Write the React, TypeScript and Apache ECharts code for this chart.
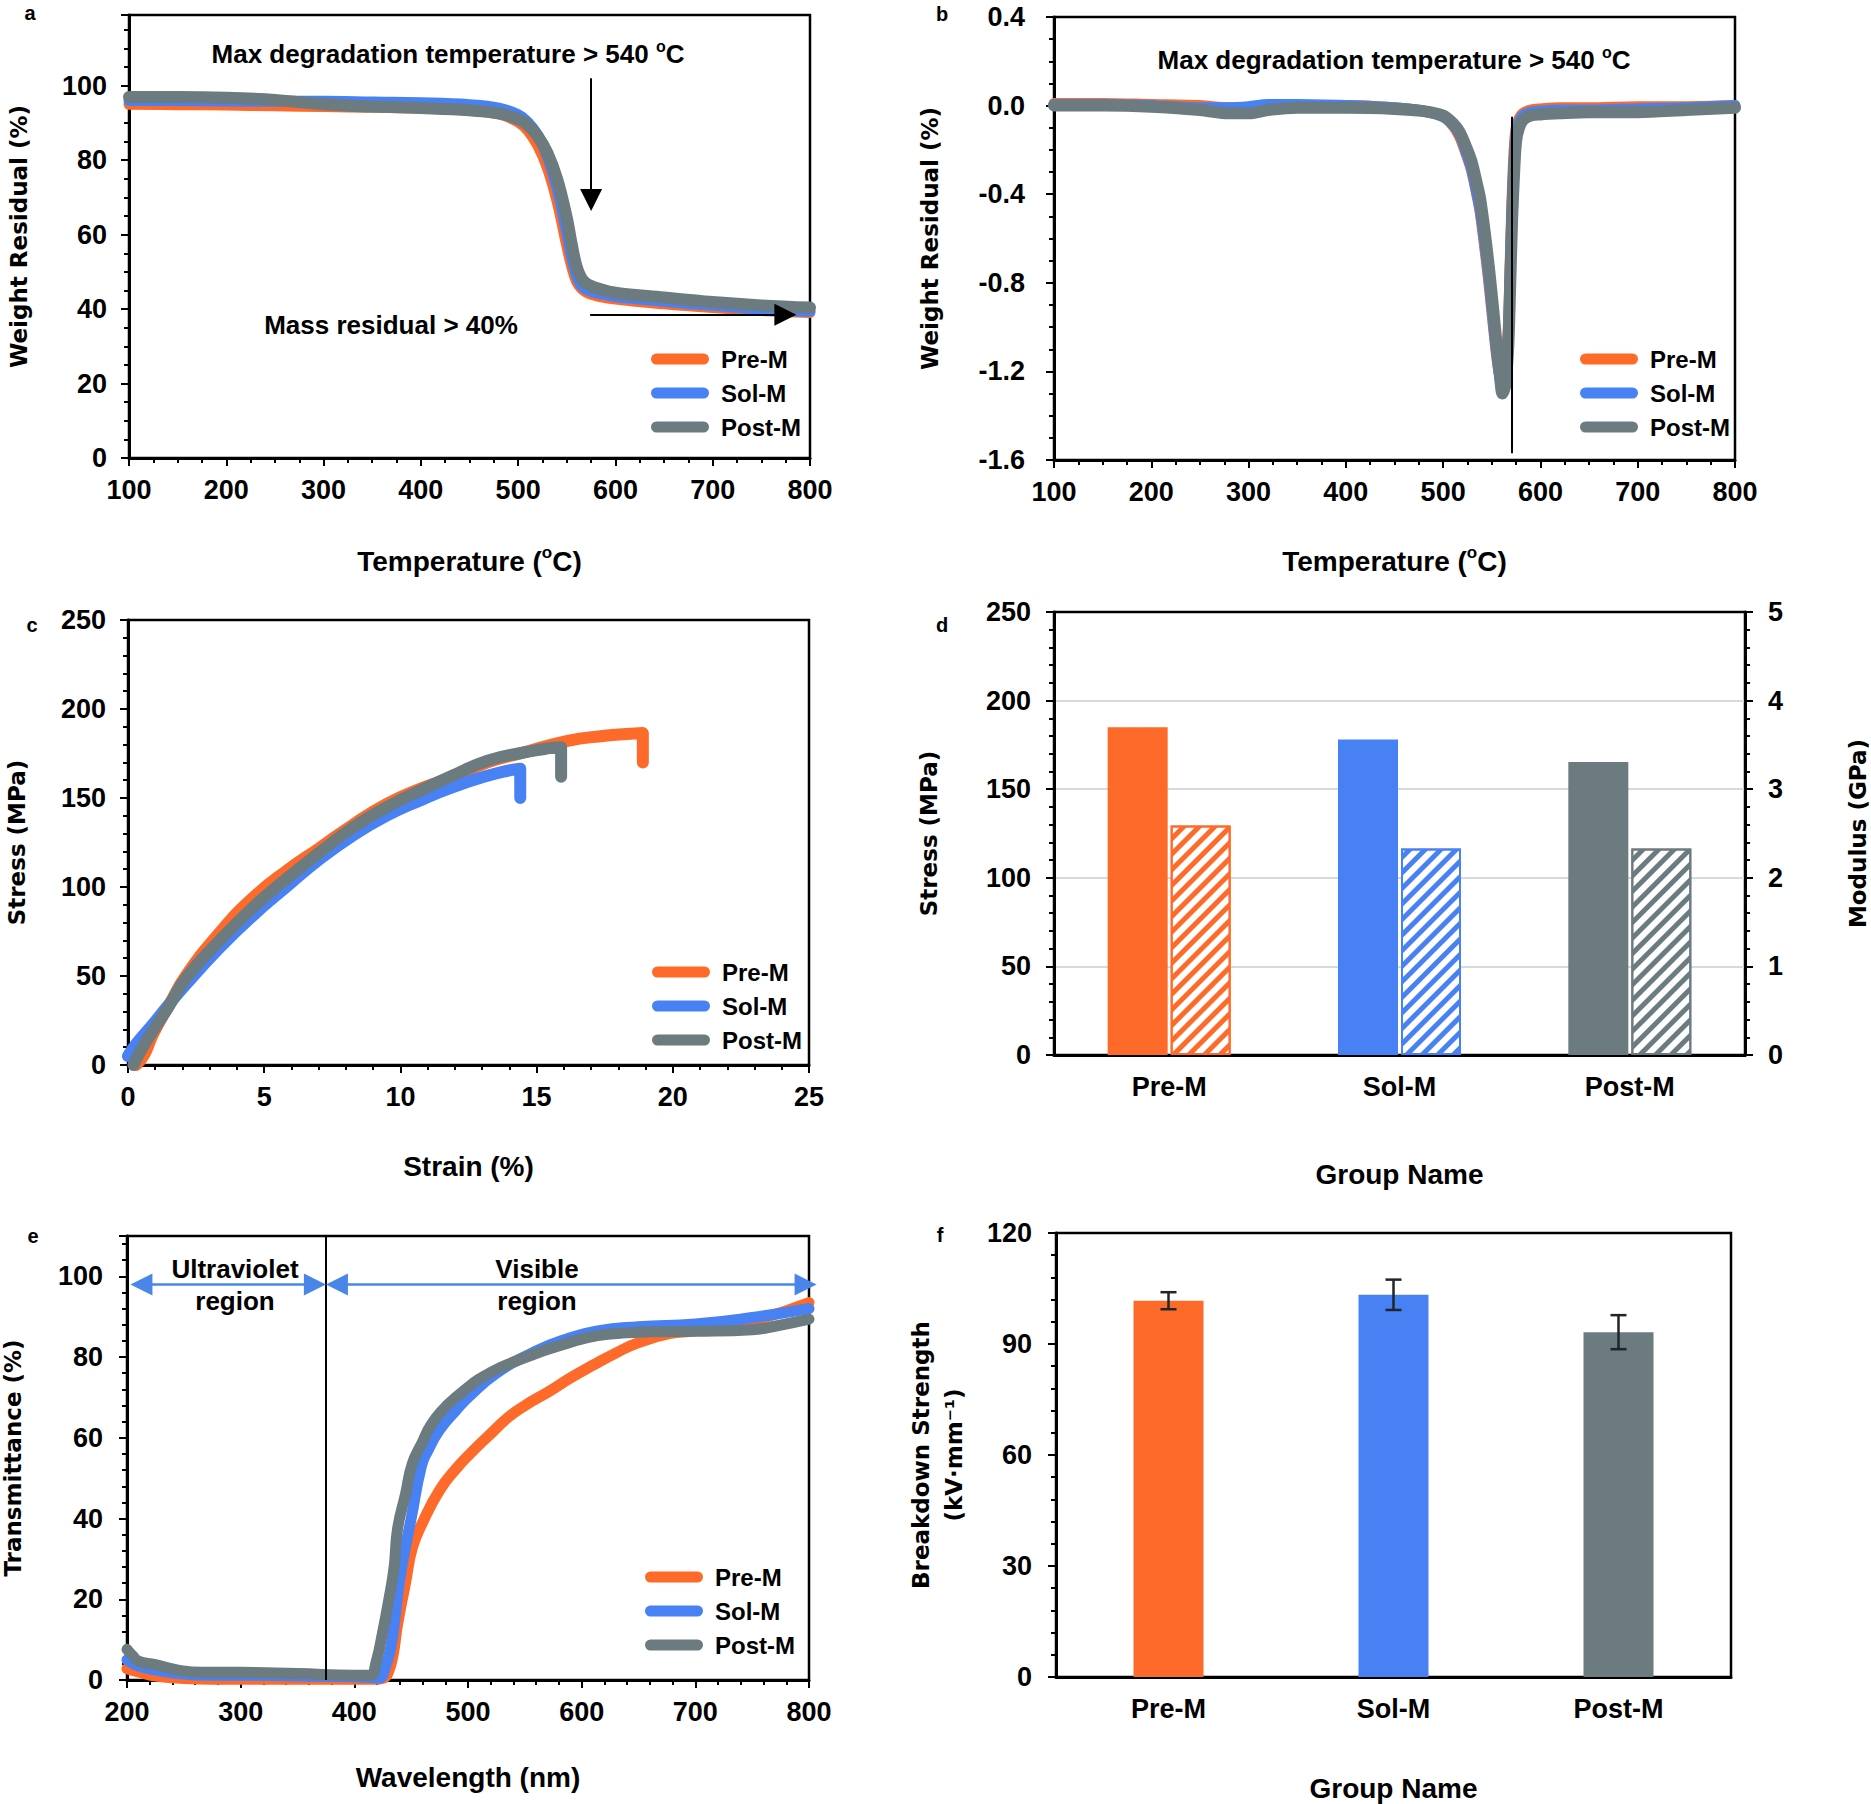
import React, { useEffect, useRef } from "react";
import * as echarts from "echarts";

// ---------- shared categories / colours ----------
const GROUPS = ["Pre-M", "Sol-M", "Post-M"];
const COLORS = ["#fe6a2a", "#4781f3", "#6b7b80"];

// ---------- (a) TGA ----------
const tgaTemp = [100, 150, 200, 250, 300, 350, 400, 450, 480, 500, 510, 520, 530, 540, 550, 555, 560, 565, 570, 575, 580, 600, 650, 700, 750, 800];
const tgaPre = [95.0, 94.9, 94.8, 94.6, 94.4, 94.2, 94.0, 93.4, 92.4, 90.3, 88.0, 84.0, 78.0, 69.0, 57.0, 51.5, 47.5, 45.6, 44.6, 44.0, 43.6, 42.7, 41.4, 40.4, 39.6, 39.1];
const tgaSol = [96.0, 96.0, 95.9, 95.8, 95.8, 95.6, 95.4, 94.9, 94.0, 92.2, 90.2, 86.8, 81.0, 72.5, 60.5, 54.0, 49.0, 46.4, 45.3, 44.8, 44.4, 43.4, 42.1, 41.0, 40.0, 39.4];
const tgaPost = [97.0, 97.0, 96.8, 96.2, 95.0, 94.4, 94.0, 93.4, 92.6, 91.0, 89.4, 86.5, 82.0, 75.0, 64.5, 57.5, 51.5, 48.3, 46.9, 46.2, 45.7, 44.4, 43.1, 41.9, 41.0, 40.4];

// ---------- (b) DTG ----------
const dtgTemp = [100, 150, 200, 250, 280, 300, 320, 350, 400, 450, 480, 500, 510, 517, 523, 529, 534, 538, 543, 547, 551, 555, 558, 561, 564, 567, 569, 571, 573, 575, 578, 582, 590, 600, 620, 650, 700, 750, 800];
const dtgPre = [0.01, 0.01, 0.005, 0.0, -0.01, -0.01, 0.0, 0.0, 0.0, -0.01, -0.025, -0.05, -0.09, -0.14, -0.21, -0.29, -0.39, -0.48, -0.65, -0.8, -0.97, -1.13, -1.22, -1.28, -1.22, -1.0, -0.7, -0.4, -0.2, -0.1, -0.06, -0.035, -0.02, -0.015, -0.01, -0.01, -0.005, -0.005, 0.0];
const dtgSol = [0.005, 0.005, 0.0, -0.01, -0.01, -0.005, 0.005, 0.005, 0.0, -0.01, -0.025, -0.05, -0.085, -0.13, -0.2, -0.28, -0.38, -0.47, -0.63, -0.78, -0.95, -1.12, -1.22, -1.29, -1.24, -1.04, -0.74, -0.44, -0.24, -0.12, -0.075, -0.045, -0.03, -0.025, -0.02, -0.02, -0.015, -0.01, 0.0];
const dtgPost = [0.0, 0.0, -0.005, -0.02, -0.035, -0.035, -0.02, -0.01, -0.01, -0.015, -0.025, -0.045, -0.08, -0.12, -0.18, -0.25, -0.34, -0.42, -0.58, -0.73, -0.9, -1.08, -1.2, -1.3, -1.26, -1.08, -0.8, -0.5, -0.3, -0.16, -0.1, -0.065, -0.045, -0.04, -0.035, -0.03, -0.03, -0.02, -0.01];

// ---------- (c) stress–strain ----------
const ssPreStrain = [0.3, 0.6, 0.92, 1.53, 2.14, 3.37, 4.59, 5.81, 7.04, 8.26, 9.49, 10.7, 11.9, 13.2, 14.5, 16.1, 17.5, 18.3, 18.9, 18.9];
const ssPreStress = [0, 6, 17.4, 34.3, 50.5, 74.5, 94, 109, 122, 135, 146.6, 155, 161.6, 170, 175.5, 182, 185, 186, 186.5, 170];
const ssSolStrain = [0, 0.3, 0.92, 1.5, 2.14, 3.37, 4.59, 5.81, 7.04, 8.26, 9.49, 10.7, 11.9, 13.2, 14.0, 14.4, 14.4];
const ssSolStress = [5, 11.8, 23, 34, 45.5, 66, 84, 100, 115.7, 129, 140, 148.5, 156, 162.5, 165.5, 166.5, 150];
const ssPostStrain = [0.2, 0.5, 0.92, 1.5, 2.14, 3.37, 4.59, 5.81, 7.04, 8.26, 9.49, 10.7, 11.9, 13.2, 14.5, 15.5, 15.9, 15.9];
const ssPostStress = [0, 9, 19.3, 33, 49, 70, 88.6, 104.5, 119.5, 133.5, 144.8, 154, 162.5, 171, 175.5, 178, 178.5, 162];

// ---------- (d) strength & modulus ----------
const tensileStress = [185, 178, 165.4]; // MPa
const tensileModulus = [2.59, 2.33, 2.33]; // GPa

// ---------- (e) transmittance ----------
const uvPreWl = [200, 210, 225, 250, 275, 300, 350, 400, 420, 426, 430, 434, 438, 445, 451, 460, 475, 490, 503, 520, 535, 550, 572, 590, 610, 630, 650, 677, 700, 750, 800];
const uvPreT = [2.8, 2.0, 1.0, 0.4, 0.2, 0.2, 0.2, 0.2, 0.2, 0.5, 2, 6, 13.7, 24, 32.7, 39, 47, 52.5, 56.4, 61, 65, 68, 71.6, 74.8, 78.0, 81, 83.6, 85.8, 86.5, 89, 93.5];
const uvSolWl = [200, 210, 225, 250, 275, 300, 350, 400, 415, 422, 427, 432, 436, 440, 445, 450, 459, 465, 475, 490, 500, 525, 560, 587, 614, 650, 700, 750, 800];
const uvSolT = [5.0, 3.5, 2.5, 1.5, 1.2, 1.2, 1.0, 0.8, 0.6, 0.5, 3, 8, 16, 25, 33, 40, 53, 57, 62, 67, 70, 76, 81.5, 84.5, 86.5, 87.5, 88.2, 89.8, 92];
const uvPostWl = [200, 205, 210, 225, 246, 267, 300, 350, 400, 414, 419, 425, 430, 435, 438, 445, 451, 460, 467, 478, 488, 500, 509, 520, 535, 561, 587, 614, 640, 666, 700, 750, 771, 800];
const uvPostT = [7.6, 6.0, 4.7, 3.8, 2.4, 1.9, 1.9, 1.6, 1.2, 1.2, 4.3, 12, 19.4, 28, 37.4, 46, 53.6, 59, 63, 67, 69.7, 72.5, 74.4, 76.2, 78.2, 81, 83.4, 85.3, 86, 86.3, 86.4, 86.8, 87.7, 89.4];

// ---------- (f) breakdown strength ----------
const breakdownMean = [101.7, 103.3, 93.2];
const breakdownErr = [2.3, 4.1, 4.6];

// ---------- helpers ----------
const zip = (xs: number[], ys: number[]) => xs.map((x, i) => [x, ys[i]]);

const FONT = "'Liberation Sans', Arial, Helvetica, sans-serif";
const YFONT = "'DejaVu Sans', Verdana, sans-serif";
const BLACK = "#000";

const tickLabel = (margin: number, formatter?: any) => ({
  show: true,
  margin,
  color: BLACK,
  fontSize: 27,
  fontWeight: "bold",
  fontFamily: FONT,
  hideOverlap: false,
  showMinLabel: true,
  showMaxLabel: true,
  ...(formatter ? { formatter } : {}),
});
const axisLine = { show: true, onZero: false, lineStyle: { color: BLACK, width: 3 } };
const axisTick = { show: true, length: 8, inside: false, lineStyle: { color: BLACK, width: 2 } };
const minorTick = (n: number) => ({ show: true, splitNumber: n, length: 5, lineStyle: { color: BLACK, width: 2 } });
const xNameStyle: any = { color: BLACK, fontSize: 28, fontWeight: "bold", fontFamily: FONT, lineHeight: 34 };
const yNameStyle: any = { color: BLACK, fontSize: 23, fontWeight: "bold", fontFamily: YFONT, lineHeight: 33 };
const tempName = "{t|Temperature (}{s|o}{t|C)}";
const tempNameStyle: any = {
  ...xNameStyle,
  rich: {
    t: { ...xNameStyle },
    s: { color: BLACK, fontSize: 17, fontWeight: "bold", fontFamily: FONT, lineHeight: 17, verticalAlign: "top" },
  },
};

function vAxis(p: any) {
  return {
    type: "value",
    gridIndex: p.grid,
    min: p.min,
    max: p.max,
    interval: p.interval,
    position: p.position,
    name: p.name,
    nameLocation: "middle",
    nameGap: p.nameGap,
    nameTextStyle: p.nameStyle,
    axisLine,
    axisTick,
    minorTick: minorTick(p.minor),
    axisLabel: tickLabel(p.margin ?? 18, p.fmt),
    splitLine: p.splitLine ?? { show: false },
    minorSplitLine: { show: false },
  };
}

function cAxis(grid: number, nameGap: number) {
  return {
    type: "category",
    gridIndex: grid,
    data: GROUPS,
    name: "Group Name",
    nameLocation: "middle",
    nameGap,
    nameTextStyle: xNameStyle,
    axisLine,
    axisTick: { show: false },
    axisLabel: tickLabel(18),
    splitLine: { show: false },
  };
}

// labels are only drawn up to the last labelled tick
const labelsUpTo = (last: number, digits = 0) => (val: number) =>
  val > last + 1e-9 ? "" : Math.abs(val) < 1e-9 ? (0).toFixed(digits) : val.toFixed(digits);

function lineSeries(name: string, color: string, xi: number, yi: number, data: number[][], width: number, smooth = 0.4) {
  return {
    type: "line",
    name,
    xAxisIndex: xi,
    yAxisIndex: yi,
    data,
    showSymbol: false,
    symbol: "none",
    smooth,
    z: 2,
    itemStyle: { color },
    lineStyle: { color, width, cap: "round", join: "round" },
    emphasis: { disabled: true },
  };
}

const PILL = "path://M5.5,0H52.5A5.5,5.5,0,0,1,52.5,11H5.5A5.5,5.5,0,0,1,5.5,0Z";
const legendAt = (left: number, top: number) => ({
  left,
  top,
  orient: "vertical",
  align: "left",
  icon: PILL,
  itemWidth: 58,
  itemHeight: 11,
  itemGap: 10,
  padding: 0,
  selectedMode: false,
  data: GROUPS,
  textStyle: { fontSize: 24, fontWeight: "bold", fontFamily: FONT, color: BLACK, padding: [0, 0, 0, 7] },
});

const markBase = {
  silent: true,
  animation: false,
  label: { show: false },
  emphasis: { disabled: true },
};

function annotSeries(name: string, xi: number, yi: number, markLine: any) {
  return {
    type: "line",
    name,
    xAxisIndex: xi,
    yAxisIndex: yi,
    data: [],
    z: 6,
    markLine: { ...markBase, ...markLine },
  };
}

const gridBase = { show: true, borderColor: BLACK, borderWidth: 2.5, backgroundColor: "transparent", containLabel: false, outerBoundsMode: "none" };

function richTitle(main: string, x: number, y: number) {
  return {
    type: "text",
    x,
    y,
    z: 10,
    style: {
      text: `{n|${main} }{s|o}{n|C}`,
      fill: BLACK,
      align: "center",
      verticalAlign: "middle",
      rich: {
        n: { fontSize: 26, fontWeight: "bold", fontFamily: FONT, fill: BLACK, lineHeight: 32 },
        s: { fontSize: 16, fontWeight: "bold", fontFamily: FONT, fill: BLACK, lineHeight: 16, verticalAlign: "top" },
      },
    },
  };
}

function plainText(text: string, x: number, y: number, size: number, lineHeight?: number) {
  return {
    type: "text",
    x,
    y,
    z: 10,
    style: {
      text,
      fill: BLACK,
      font: `bold ${size}px ${FONT}`,
      fontSize: size,
      fontWeight: "bold",
      fontFamily: FONT,
      lineHeight: lineHeight ?? size,
      align: "center",
      verticalAlign: "middle",
    },
  };
}

function buildOption(): any {
  const hatch = (c: string) => ({
    color: "#fff",
    borderColor: c,
    borderWidth: 2,
    decal: {
      symbol: "rect",
      symbolSize: 1,
      color: c,
      dashArrayX: [1, 0],
      dashArrayY: [5, 5.5],
      rotation: -Math.PI / 4,
    },
  });

  return {
    animation: false,
    backgroundColor: "#fff",
    grid: [
      { ...gridBase, left: 129, top: 15, width: 681, height: 443 },
      { ...gridBase, left: 1054, top: 17, width: 681, height: 443 },
      { ...gridBase, left: 128, top: 620, width: 681, height: 445 },
      { ...gridBase, left: 1054, top: 612, width: 691, height: 443 },
      { ...gridBase, left: 127, top: 1236, width: 682, height: 444 },
      { ...gridBase, left: 1056, top: 1233, width: 675, height: 444 },
    ],
    xAxis: [
      vAxis({ grid: 0, min: 100, max: 800, interval: 100, minor: 4, name: tempName, nameGap: 86, nameStyle: tempNameStyle }),
      vAxis({ grid: 1, min: 100, max: 800, interval: 100, minor: 4, name: tempName, nameGap: 84, nameStyle: tempNameStyle }),
      vAxis({ grid: 2, min: 0, max: 25, interval: 5, minor: 5, name: "Strain (%)", nameGap: 84, nameStyle: xNameStyle }),
      cAxis(3, 102),
      vAxis({ grid: 4, min: 200, max: 800, interval: 100, minor: 5, name: "Wavelength (nm)", nameGap: 80, nameStyle: xNameStyle }),
      cAxis(5, 94),
    ],
    yAxis: [
      vAxis({ grid: 0, min: 0, max: 119, interval: 20, minor: 4, name: "Weight Residual (%)", nameGap: 94, nameStyle: yNameStyle, margin: 22, fmt: labelsUpTo(100) }),
      vAxis({
        grid: 1, min: -1.6, max: 0.4, interval: 0.4, minor: 4, name: "Weight Residual (%)", nameGap: 108, nameStyle: yNameStyle, margin: 29,
        fmt: labelsUpTo(0.4, 1),
      }),
      vAxis({ grid: 2, min: 0, max: 250, interval: 50, minor: 5, name: "Stress (MPa)", nameGap: 95, nameStyle: yNameStyle, margin: 22 }),
      vAxis({
        grid: 3, min: 0, max: 250, interval: 50, minor: 5, name: "Stress (MPa)", nameGap: 109, nameStyle: yNameStyle, margin: 23,
        splitLine: { show: true, showMinLine: false, showMaxLine: false, lineStyle: { color: "#d3dbe1", width: 2 } },
      }),
      vAxis({ grid: 3, min: 0, max: 5, interval: 1, minor: 5, name: "Modulus (GPa)", nameGap: 96, nameStyle: yNameStyle, margin: 23, position: "right" }),
      vAxis({ grid: 4, min: 0, max: 110, interval: 20, minor: 5, name: "Transmittance (%)", nameGap: 98, nameStyle: yNameStyle, margin: 24, fmt: labelsUpTo(100) }),
      vAxis({ grid: 5, min: 0, max: 120, interval: 30, minor: 5, name: "Breakdown Strength\n(kV·mm⁻¹)", nameGap: 86, nameStyle: yNameStyle, margin: 24 }),
    ],
    legend: [legendAt(651, 347), legendAt(1580, 347), legendAt(652, 960), legendAt(645, 1565)],
    series: [
      // (a)
      lineSeries(GROUPS[0], COLORS[0], 0, 0, zip(tgaTemp, tgaPre), 11),
      lineSeries(GROUPS[1], COLORS[1], 0, 0, zip(tgaTemp, tgaSol), 11),
      lineSeries(GROUPS[2], COLORS[2], 0, 0, zip(tgaTemp, tgaPost), 12),
      annotSeries("annot-a", 0, 0, {
        symbol: ["none", "triangle"],
        symbolSize: 22,
        lineStyle: { color: BLACK, width: 2, type: "solid" },
        data: [
          [{ coord: [575, 102] }, { coord: [575, 69.3] }],
          [{ coord: [574, 38.5] }, { coord: [774.7, 38.5] }],
        ],
      }),
      // (b)
      lineSeries(GROUPS[0], COLORS[0], 1, 1, zip(dtgTemp, dtgPre), 11, 0.3),
      lineSeries(GROUPS[1], COLORS[1], 1, 1, zip(dtgTemp, dtgSol), 11, 0.3),
      lineSeries(GROUPS[2], COLORS[2], 1, 1, zip(dtgTemp, dtgPost), 12, 0.3),
      annotSeries("annot-b", 1, 1, {
        symbol: ["none", "none"],
        lineStyle: { color: BLACK, width: 2, type: "solid" },
        data: [[{ coord: [571, -0.05] }, { coord: [571, -1.57] }]],
      }),
      // (c)
      lineSeries(GROUPS[0], COLORS[0], 2, 2, zip(ssPreStrain, ssPreStress), 12, 0.5),
      lineSeries(GROUPS[1], COLORS[1], 2, 2, zip(ssSolStrain, ssSolStress), 12, 0.5),
      lineSeries(GROUPS[2], COLORS[2], 2, 2, zip(ssPostStrain, ssPostStress), 12, 0.5),
      // (d)
      {
        type: "bar",
        name: "Stress",
        xAxisIndex: 3,
        yAxisIndex: 3,
        barWidth: 60,
        barGap: "5%",
        data: tensileStress.map((v, i) => ({ value: v, itemStyle: { color: COLORS[i] } })),
        emphasis: { disabled: true },
      },
      {
        type: "bar",
        name: "Modulus",
        xAxisIndex: 3,
        yAxisIndex: 4,
        barWidth: 60,
        barGap: "5%",
        data: tensileModulus.map((v, i) => ({ value: v, itemStyle: hatch(COLORS[i]) })),
        emphasis: { disabled: true },
      },
      // (e)
      lineSeries(GROUPS[0], COLORS[0], 4, 5, zip(uvPreWl, uvPreT), 11, 0.5),
      lineSeries(GROUPS[1], COLORS[1], 4, 5, zip(uvSolWl, uvSolT), 11, 0.5),
      lineSeries(GROUPS[2], COLORS[2], 4, 5, zip(uvPostWl, uvPostT), 11, 0.5),
      annotSeries("annot-e-line", 4, 5, {
        symbol: ["none", "none"],
        lineStyle: { color: BLACK, width: 2, type: "solid" },
        data: [[{ coord: [375, 0] }, { coord: [375, 110] }]],
      }),
      annotSeries("annot-e-arrows", 4, 5, {
        symbol: ["triangle", "triangle"],
        symbolSize: 22,
        lineStyle: { color: "#4a86e8", width: 2.5, type: "solid" },
        itemStyle: { color: "#4a86e8" },
        data: [
          [{ coord: [212.7, 98] }, { coord: [365.3, 98] }],
          [{ coord: [384.7, 98] }, { coord: [797, 98] }],
        ],
      }),
      // (f)
      {
        type: "bar",
        name: "Breakdown",
        xAxisIndex: 5,
        yAxisIndex: 6,
        barWidth: 70,
        data: breakdownMean.map((v, i) => ({ value: v, itemStyle: { color: COLORS[i] } })),
        emphasis: { disabled: true },
      },
      {
        type: "custom",
        name: "Breakdown error",
        xAxisIndex: 5,
        yAxisIndex: 6,
        z: 5,
        data: breakdownMean.map((m, i) => [i, m - breakdownErr[i], m + breakdownErr[i]]),
        encode: { x: 0, y: [1, 2] },
        renderItem: (_params: any, api: any) => {
          const lo = api.coord([api.value(0), api.value(1)]);
          const hi = api.coord([api.value(0), api.value(2)]);
          const w = 8;
          const st = { stroke: "#1f2528", lineWidth: 2.5 };
          return {
            type: "group",
            children: [
              { type: "line", shape: { x1: lo[0], y1: lo[1], x2: hi[0], y2: hi[1] }, style: st },
              { type: "line", shape: { x1: lo[0] - w, y1: lo[1], x2: lo[0] + w, y2: lo[1] }, style: st },
              { type: "line", shape: { x1: hi[0] - w, y1: hi[1], x2: hi[0] + w, y2: hi[1] }, style: st },
            ],
          };
        },
      },
    ],
    graphic: [
      plainText("a", 30, 13, 20),
      plainText("b", 942, 14, 20),
      plainText("c", 32, 625, 20),
      plainText("d", 942, 625, 20),
      plainText("e", 33, 1236, 20),
      plainText("f", 940, 1235, 20),
      richTitle("Max degradation temperature > 540", 448, 54),
      richTitle("Max degradation temperature > 540", 1394, 60),
      plainText("Mass residual > 40%", 391, 325, 26),
      plainText("Ultraviolet\nregion", 235, 1285, 26, 32),
      plainText("Visible\nregion", 537, 1285, 26, 32),
    ],
  };
}

export default function App() {
  const ref = useRef<HTMLDivElement>(null);
  useEffect(() => {
    if (!ref.current) return;
    const chart = echarts.init(ref.current, null, { renderer: "svg" });
    chart.setOption(buildOption());
    return () => chart.dispose();
  }, []);
  return (
    <div
      ref={ref}
      style={{ position: "absolute", left: 0, top: 0, width: 1871, height: 1804, background: "#fff" }}
    />
  );
}
